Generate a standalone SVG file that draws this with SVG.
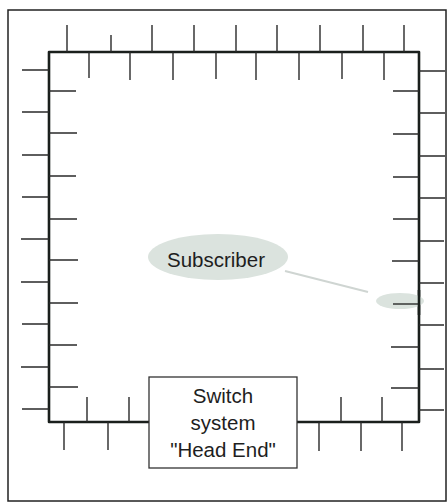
<svg xmlns="http://www.w3.org/2000/svg" width="448" height="503" viewBox="0 0 448 503">
<style>
.frame{fill:none;stroke:#222;stroke-width:1.5}
.loop{fill:none;stroke:#1a1f1c;stroke-width:2.6;stroke-linejoin:round}
.tick{stroke:#2a2a2a;stroke-width:1.4}
.blob{fill:#dbe3de}
.lbl{font-family:"Liberation Sans",Arial,sans-serif;font-size:20.5px;fill:#1e1e1e;text-anchor:middle}
.box{fill:#fff;stroke:#333;stroke-width:1.3}
</style>
<rect width="448" height="503" fill="#fff"/>
<rect class="frame" x="8" y="10" width="438" height="491"/>
<g id="loop">
<path class="loop" d="M149,422 L49,422 L49,52 L419,52 L419,422 L297,422"/>
<g id="ticks">
<path class="tick" d="M67,25V52M111,35V52M152,25V52M194,25V52M236,25V52M277,25V52M320,25V52M363,25V52M404,25V52"/>
<path class="tick" d="M89,52V78M130,52V80M173,52V80M216,52V79M256,52V80M299,52V80M342,52V79M384,52V80"/>
<path class="tick" d="M22,70H49M22,112H49M22,155H49M22,197H49M21,239H49M21,282H49M22,324H49M21,367H49M22,409H49"/>
<path class="tick" d="M49,91H76M49,133H77M49,176H76M49,219H77M49,260H78M49,303H78M49,345H77M49,387H78"/>
<path class="tick" d="M419,71H445M419,113H445M419,156H445M419,198H445M419,241H444M419,283H444M419,325H444M419,369H444M419,410H444"/>
<path class="tick" d="M393,91H419M393,134H419M393,177H419M393,219H419M392,261H419M392,304H419M391,347H419M391,388H419"/>
<path class="tick" d="M87,397V422M129,397V422M341,397V422M382,397V422"/>
<path class="tick" d="M64,422V450M108,422V450M319,422V451M361,422V451M402,422V451"/>
</g>
</g>
<g id="connectors">
<path d="M285,271 L368,292" stroke="#cfd5d2" stroke-width="2" fill="none"/>
</g>
<g id="subscriber">
<ellipse class="blob" cx="218" cy="257" rx="70" ry="23"/>
<text class="lbl" x="216" y="267">Subscriber</text>
</g>
<g id="tap">
<ellipse class="blob" cx="400" cy="301" rx="24" ry="8"/>
<path class="tick" d="M393,304H419"/>
<path class="loop" d="M419,290V315"/>
</g>
<g id="headend">
<rect class="box" x="149" y="377" width="148" height="91"/>
<text class="lbl" x="223" y="403">Switch</text>
<text class="lbl" x="223" y="430">system</text>
<text class="lbl" x="223" y="457">"Head End"</text>
</g>
</svg>
